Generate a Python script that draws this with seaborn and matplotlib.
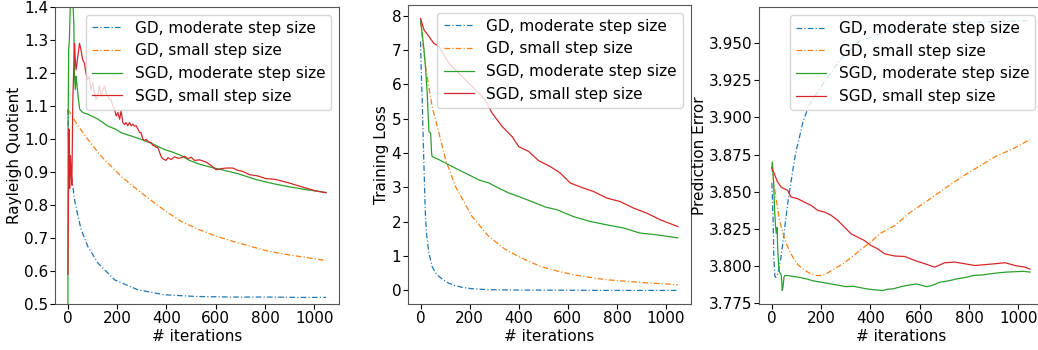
import matplotlib
matplotlib.use("Agg")
import matplotlib.pyplot as plt
import seaborn as sns

labels = ["GD, moderate step size", "GD, small step size",
          "SGD, moderate step size", "SGD, small step size"]
colors = ["#1f77b4", "#ff7f0e", "#2ca02c", "#d62728"]
dashdot = (0, (4.5, 1.8, 0.9, 1.8))
styles = [dashdot, dashdot, "-", "-"]
x_label = "# iterations"
y_labels = ["Rayleigh Quotient", "Training Loss", "Prediction Error"]

# ---------------- Panel 1: Rayleigh Quotient ----------------
rq_gd_mod_it = [0, 2, 5, 13, 27, 41, 54, 81, 122, 190, 284, 392, 514, 660, 810, 950, 1048]
rq_gd_mod = [1.09, 1.00, 0.95, 0.898, 0.816, 0.765, 0.725, 0.674, 0.624, 0.573, 0.543,
             0.528, 0.523, 0.521, 0.521, 0.520, 0.520]
rq_gd_small_it = [0, 41, 81, 132, 216, 284, 352, 399, 460, 534, 600, 669, 740, 804, 870, 940, 1000, 1048]
rq_gd_small = [1.09, 1.04, 0.999, 0.95, 0.887, 0.845, 0.806, 0.780, 0.750, 0.725, 0.706,
               0.690, 0.675, 0.662, 0.652, 0.644, 0.637, 0.632]
rq_sgd_mod_it = [0, 1, 3, 6, 10, 15, 20, 24, 27, 30, 33, 36, 41, 48, 61, 81, 101, 122, 142,
                 162, 193, 216, 253, 297, 345, 392, 426, 459, 494, 537, 588, 629, 690, 764,
                 831, 899, 963, 1048]
rq_sgd_mod = [0.50, 1.05, 1.27, 1.30, 1.42, 1.45, 1.42, 1.35, 1.19, 1.15, 1.19, 1.17, 1.13,
              1.09, 1.08, 1.075, 1.068, 1.06, 1.05, 1.039, 1.03, 1.019, 1.01, 0.999, 0.985,
              0.968, 0.96, 0.95, 0.935, 0.923, 0.913, 0.906, 0.895, 0.877, 0.865, 0.855,
              0.847, 0.838]
rq_sgd_small_it = [0, 2, 4, 7, 10, 13, 16, 20, 24, 27, 30, 33, 37, 40, 44, 47, 53, 60, 67, 73,
                   80, 87, 93, 101, 108, 114, 121, 128, 135, 142, 149, 155, 162, 169, 175,
                   182, 189, 196, 203, 210, 216, 223, 230, 236, 243, 250, 257, 264, 271, 277,
                   284, 291, 297, 304, 311, 317, 324, 331, 338, 345, 352, 358, 365, 372, 378,
                   385, 392, 398, 406, 419, 433, 446, 459, 474, 487, 500, 514, 534, 561, 581,
                   601, 622, 642, 669, 690, 710, 737, 771, 804, 839, 872, 906, 940, 973,
                   1004, 1048]
rq_sgd_small = [0.59, 0.80, 1.03, 0.85, 0.95, 0.90, 0.86, 1.12, 1.22, 1.29, 1.24, 1.21, 1.23,
                1.25, 1.27, 1.29, 1.27, 1.24, 1.23, 1.20, 1.18, 1.19, 1.15, 1.17, 1.14, 1.12,
                1.13, 1.16, 1.13, 1.15, 1.16, 1.14, 1.13, 1.12, 1.12, 1.10, 1.09, 1.07, 1.08,
                1.06, 1.085, 1.05, 1.044, 1.05, 1.04, 1.05, 1.04, 1.045, 1.039, 1.04, 1.03,
                1.02, 1.019, 1.00, 0.995, 0.999, 0.994, 0.99, 0.989, 0.98, 0.979, 0.975, 0.974,
                0.96, 0.948, 0.94, 0.938, 0.935, 0.943, 0.938, 0.946, 0.942, 0.943, 0.948,
                0.94, 0.945, 0.935, 0.937, 0.93, 0.92, 0.907, 0.91, 0.912, 0.912, 0.905, 0.902,
                0.892, 0.888, 0.88, 0.878, 0.872, 0.865, 0.857, 0.85, 0.843, 0.837]

# ---------------- Panel 2: Training Loss ----------------
tl_gd_mod_it = [0, 3, 7, 10, 14, 17, 20, 25, 34, 47, 60, 75, 95, 115, 140, 169, 210, 278,
                400, 600, 800, 1048]
tl_gd_mod = [7.25, 6.3, 5.5, 4.6, 3.6, 2.8, 2.15, 1.6, 1.09, 0.70, 0.52, 0.41, 0.29, 0.21,
             0.14, 0.09, 0.05, 0.02, 0.01, 0.005, 0.0, 0.0]
tl_gd_small_it = [0, 20, 47, 75, 102, 142, 210, 278, 346, 413, 488, 560, 623, 690, 759, 830,
                  894, 970, 1048]
tl_gd_small = [7.85, 6.52, 5.36, 4.58, 3.81, 3.03, 2.15, 1.57, 1.19, 0.94, 0.70, 0.56, 0.457,
               0.38, 0.31, 0.27, 0.233, 0.20, 0.166]
tl_sgd_mod_it = [0, 14, 20, 27, 34, 41, 45, 47, 75, 115, 156, 196, 237, 278, 318, 359, 413,
                 467, 508, 556, 623, 691, 759, 826, 894, 962, 1048]
tl_sgd_mod = [7.88, 7.01, 6.52, 5.75, 4.63, 4.58, 4.0, 3.90, 3.81, 3.66, 3.51, 3.37, 3.22,
              3.13, 2.98, 2.84, 2.70, 2.55, 2.43, 2.35, 2.15, 2.01, 1.91, 1.82, 1.67, 1.62,
              1.53]
tl_sgd_small_it = [0, 14, 34, 54, 75, 115, 156, 210, 264, 291, 332, 373, 400, 440, 481, 528,
                   569, 610, 664, 705, 759, 813, 867, 922, 976, 1048]
tl_sgd_small = [7.92, 7.59, 7.40, 7.20, 7.11, 6.62, 6.33, 5.94, 5.55, 5.17, 4.78, 4.48, 4.19,
                4.05, 3.78, 3.61, 3.42, 3.13, 2.98, 2.88, 2.69, 2.59, 2.40, 2.25, 2.06, 1.86]

# ---------------- Panel 3: Prediction Error ----------------
pe_gd_mod_it = [0, 5, 8, 12, 16, 24, 37, 50, 64, 77, 91, 99, 118, 126, 150, 213, 281, 351,
                487, 620, 758, 900, 1048]
pe_gd_mod = [3.856, 3.830, 3.805, 3.793, 3.7925, 3.7948, 3.806, 3.823, 3.842, 3.856, 3.871,
             3.878, 3.891, 3.897, 3.908, 3.924, 3.9395, 3.951, 3.959, 3.962, 3.9635, 3.9645,
             3.965]
pe_gd_small_it = [0, 4, 18, 31, 45, 59, 72, 85, 105, 126, 150, 180, 200, 221, 250, 289, 320,
                  357, 400, 438, 499, 560, 634, 700, 770, 840, 905, 980, 1048]
pe_gd_small = [3.867, 3.860, 3.8443, 3.8308, 3.822, 3.815, 3.810, 3.806, 3.801, 3.7982,
               3.7955, 3.7937, 3.7937, 3.7948, 3.798, 3.8016, 3.8055, 3.8106, 3.816, 3.8218,
               3.8274, 3.836, 3.8443, 3.852, 3.860, 3.867, 3.8735, 3.879, 3.8852]
pe_sgd_mod_it = [0, 2, 7, 11, 15, 18, 21, 24, 28, 31, 35, 38, 42, 45, 49, 53, 58, 70, 90,
                 110, 140, 170, 201, 240, 275, 300, 329, 360, 384, 420, 451, 470, 492, 520,
                 546, 587, 610, 628, 650, 682, 720, 750, 790, 817, 850, 885, 920, 953, 994,
                 1020, 1048]
pe_sgd_mod = [3.866, 3.870, 3.8556, 3.8375, 3.826, 3.822, 3.826, 3.810, 3.799, 3.796, 3.7948,
              3.794, 3.7836, 3.786, 3.7925, 3.7937, 3.7937, 3.7935, 3.793, 3.7925, 3.7914,
              3.790, 3.7892, 3.788, 3.787, 3.7862, 3.7865, 3.7855, 3.7847, 3.7840, 3.7836,
              3.7845, 3.7847, 3.786, 3.787, 3.788, 3.787, 3.7862, 3.787, 3.7892, 3.7902,
              3.7914, 3.7925, 3.7937, 3.794, 3.7948, 3.7955, 3.796, 3.7963, 3.7965, 3.796]
pe_sgd_small_it = [0, 9, 23, 37, 50, 64, 77, 104, 131, 159, 186, 213, 240, 267, 294, 321,
                   348, 375, 402, 429, 457, 499, 539, 580, 621, 661, 702, 743, 783, 824, 865,
                   905, 946, 987, 1027, 1048]
pe_sgd_small = [3.8657, 3.8623, 3.8566, 3.8533, 3.852, 3.851, 3.8465, 3.8454, 3.8431, 3.8409,
                3.8375, 3.8364, 3.8342, 3.8308, 3.8263, 3.8218, 3.8195, 3.8173, 3.8139,
                3.8117, 3.8083, 3.8068, 3.8065, 3.8038, 3.8016, 3.7993, 3.8023, 3.8027,
                3.8016, 3.8004, 3.801, 3.8016, 3.8023, 3.8004, 3.7993, 3.798]

panels = [
    [(rq_gd_mod_it, rq_gd_mod), (rq_gd_small_it, rq_gd_small),
     (rq_sgd_mod_it, rq_sgd_mod), (rq_sgd_small_it, rq_sgd_small)],
    [(tl_gd_mod_it, tl_gd_mod), (tl_gd_small_it, tl_gd_small),
     (tl_sgd_mod_it, tl_sgd_mod), (tl_sgd_small_it, tl_sgd_small)],
    [(pe_gd_mod_it, pe_gd_mod), (pe_gd_small_it, pe_gd_small),
     (pe_sgd_mod_it, pe_sgd_mod), (pe_sgd_small_it, pe_sgd_small)],
]

W, H = 1038, 350
# axes boxes in pixels: left, top, right, bottom
boxes = [(55, 7, 339, 304), (407.7, 5, 690.7, 304), (759, 7.3, 1043, 304)]

plt.rcParams["font.size"] = 11
plt.rcParams["font.family"] = ["DejaVu Sans"]
plt.rcParams["xtick.major.pad"] = 1.5
plt.rcParams["ytick.major.pad"] = 1.2
plt.rcParams["axes.edgecolor"] = "#555555"
fig = plt.figure(figsize=(W / 100, H / 100), dpi=100)

for i, (series, box, ylab) in enumerate(zip(panels, boxes, y_labels)):
    l, t, r, b = box
    ax = fig.add_axes([l / W, 1 - b / H, (r - l) / W, (b - t) / H])
    for (xs, ys), lab, c, ls in zip(series, labels, colors, styles):
        sns.lineplot(x=xs, y=ys, ax=ax, color=c, linestyle=ls, lw=0.9,
                     label=lab, estimator=None, sort=False)
    if i == 0:
        ax.set_ylim(0.5, 1.4)
    ax.set_xlabel(x_label, labelpad=2)
    ax.set_ylabel(ylab, labelpad=1.5)
    ax.legend(loc="upper right")

fig.savefig("out.png", dpi=100)
